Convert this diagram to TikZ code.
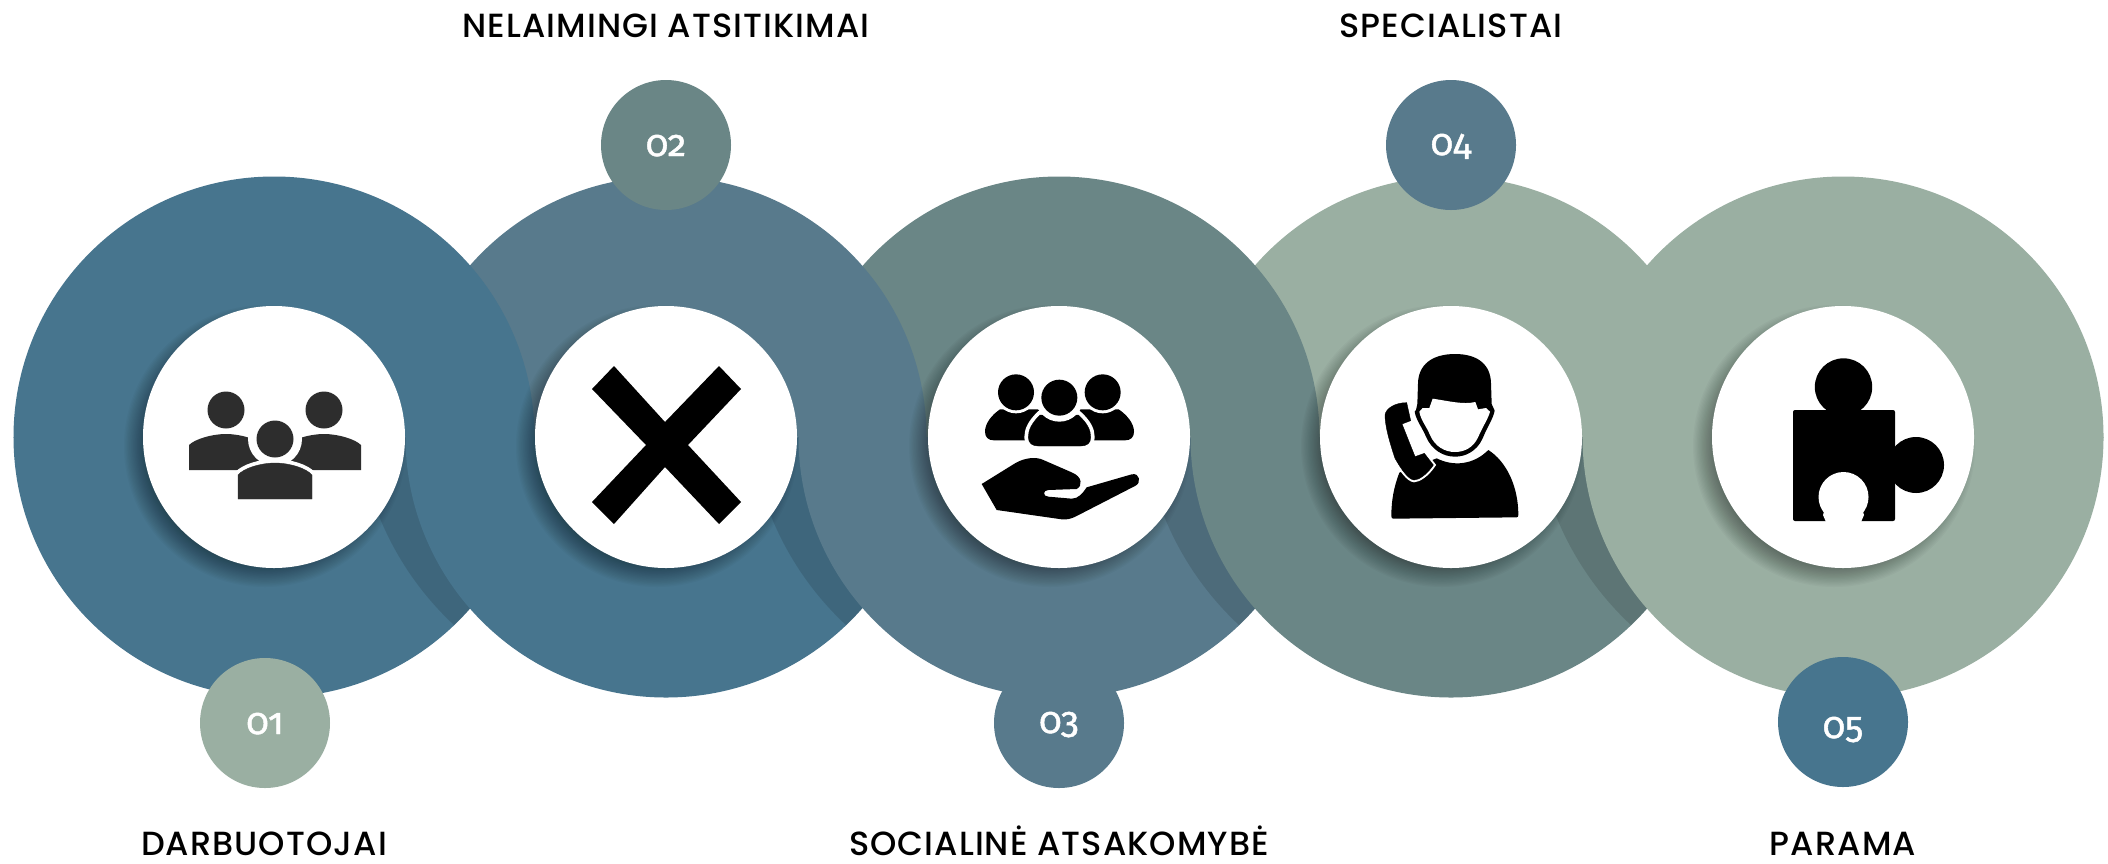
\documentclass[tikz,border=0pt]{standalone}
\usepackage{fontspec}
\setmainfont[LetterSpace=3.2]{Poppins Medium}
\newfontfamily\numf[Numbers=OldStyle,FakeBold=1.2]{Fira Sans}
\definecolor{cA}{HTML}{47758E}
\definecolor{cB}{HTML}{587A8C}
\definecolor{cC}{HTML}{6A8686}
\definecolor{cD}{HTML}{9AAFA2}
\definecolor{iconA}{HTML}{2D2D2D}
\tikzset{
  label text/.style={font=\fontsize{33.5}{33.5}\selectfont, text=black, anchor=base, inner sep=0pt},
  num disc/.style={circle, minimum size=130pt, inner sep=0pt, text=white},
  num text/.style={font=\numf\fontsize{37}{37}\selectfont, text=white, anchor=base, inner sep=0pt},
  hub/.style={circle, fill=white, minimum size=262pt, inner sep=0pt},
}
\begin{document}
\begin{tikzpicture}[x=1pt,y=-1pt]
\useasboundingbox (0,0) rectangle (2108,863);
\fill[white] (0,0) rectangle (2108,863);
% upper halves: each circle lies over the next
\begin{scope}
  \clip (0,0) rectangle (2108,437.5);
  \foreach \cx/\col in {1843/cD,1451/cD,1059/cC,666/cB,274/cA}
    \fill[\col] (\cx,437) circle[radius=260.5pt];
\end{scope}
% lower halves: each circle lies over the previous, with a darker band
\begin{scope}
  \clip (0,437) rectangle (2108,863);
  \foreach \cx/\col/\band in {274/cA/1,666/cA/1,1059/cB/1,1451/cC/1,1843/cD/0}{
    \fill[\col] (\cx,437) circle[radius=260.5pt];
    \ifnum\band=1
    \begin{scope}
      \clip (\cx,437) circle[radius=260.5pt];
      \pgfmathsetmacro{\bx}{\cx+388}
      \fill[black,opacity=.12] (\bx,402) circle[radius=305pt];
    \end{scope}
    \fi
  }
\end{scope}
% soft shadows under the white hubs
\foreach \cx in {274,666,1059,1451,1843}{
  \foreach \k in {0,...,19}{
    \pgfmathsetmacro{\rr}{141-1.3*\k}
    \fill[black,opacity=.022] (\cx-9,446) circle[radius=\rr pt];
  }
}
\node[hub] (hubA) at (274,437) {};
\node[hub] (hubB) at (666,437) {};
\node[hub] (hubC) at (1059,437) {};
\node[hub] (hubD) at (1451,437) {};
\node[hub] (hubE) at (1843,437) {};
% icon 1: group
\begin{scope}
  \fill[iconA] (226,410) circle[radius=18.5pt] (324,410) circle[radius=18.5pt];
  \fill[iconA] (189,470) -- (189,445) .. controls (195,439) and (212,434) .. (226,434) .. controls (240,434) and (257,439) .. (263,445) -- (263,470) -- cycle;
  \fill[iconA] (361,470) -- (361,445) .. controls (355,439) and (338,434) .. (324,434) .. controls (310,434) and (293,439) .. (287,445) -- (287,470) -- cycle;
  \fill[white] (275,439) circle[radius=27pt];
  \filldraw[iconA,preaction={draw=white,line width=8pt}] (238,499) -- (238,475) .. controls (244,468) and (261,463) .. (275,463) .. controls (289,463) and (306,468) .. (312,475) -- (312,499) -- cycle;
  \fill[iconA] (275,439) circle[radius=18.5pt];
\end{scope}
% icon 2: cross
\fill[black] (614,366) -- (665,422) -- (719,366) -- (741,389) -- (688,445) -- (741,502) -- (719,524) -- (665,467) -- (614,524) -- (592,502) -- (646,445) -- (592,389) -- cycle;
% icon 3: people on a hand
\begin{scope}[shift={(900pt,-280pt)},x=.33333pt,y=-.33333pt]
  \fill[black] (300,388) .. controls (275,405) and (255,430) .. (255,455) .. controls (255,472) and (265,481) .. (282,481) -- (440,481) -- (440,388) -- cycle;
  \fill[black] (656,388) .. controls (681,405) and (702,430) .. (702,455) .. controls (702,472) and (692,481) .. (675,481) -- (516,481) -- (516,388) -- cycle;
  \fill[white] (348,337) circle[radius=21pt] (608,337) circle[radius=21pt];
  \fill[black] (348,337) circle[radius=18pt] (608,337) circle[radius=18pt];
  \fill[white] (478,353) circle[radius=24pt];
  \filldraw[black,preaction={draw=white,line width=8pt}] (420,405) .. controls (395,430) and (385,450) .. (385,472) .. controls (385,490) and (398,498) .. (415,498) -- (542,498) .. controls (560,498) and (572,490) .. (572,472) .. controls (572,450) and (562,430) .. (535,405) -- cycle;
  \fill[white] (478,353) circle[radius=24pt];
  \fill[black] (478,353) circle[radius=18pt];
  \fill[black] (245,612) -- (345,550) .. controls (375,532) and (410,530) .. (430,540) -- (515,577) .. controls (548,590) and (548,618) .. (530,627) -- (445,630) .. controls (428,630) and (428,650) .. (445,650) -- (515,656) .. controls (535,656) and (548,640) .. (560,622) -- (695,583) .. controls (720,577) and (725,610) .. (705,618) -- (530,708) .. controls (515,716) and (500,720) .. (485,718) -- (290,690) -- cycle;
\end{scope}
% icon 4: person on the phone
\begin{scope}[shift={(1290pt,-280pt)},x=.33333pt,y=-.33333pt]
  \fill[black] (595,510) .. controls (650,545) and (685,620) .. (685,705) .. controls (685,710) and (683,712) .. (680,712) -- (310,716) .. controls (306,716) and (304,714) .. (304,708) .. controls (304,660) and (312,620) .. (328,578) -- (440,535) .. controls (490,560) and (550,555) .. (595,510) -- cycle;
  \fill[black] (378,390) -- (382,372) -- (384,310) .. controls (385,255) and (425,222) .. (495,222) .. controls (565,222) and (602,255) .. (603,310) -- (605,372) -- (614,392) .. controls (610,415) and (592,440) .. (578,475) .. controls (560,515) and (525,530) .. (495,530) .. controls (460,530) and (425,510) .. (408,470) .. controls (395,440) and (378,420) .. (374,395) -- cycle;
  \fill[white] (388,395) -- (398,384) -- (418,384) -- (428,356) .. controls (470,362) and (520,375) .. (556,366) -- (564,388) -- (588,384) -- (600,395) .. controls (595,415) and (578,440) .. (565,470) .. controls (550,505) and (520,516) .. (495,516) .. controls (465,516) and (435,500) .. (420,465) .. controls (410,440) and (392,420) .. (388,395) -- cycle;
  \filldraw[black,preaction={draw=white,line width=4.5pt}] (350,368) -- (362,422) -- (336,432) -- (375,530) -- (403,520) -- (430,555) .. controls (410,585) and (385,600) .. (372,600) .. controls (355,598) and (335,570) .. (315,535) .. controls (300,490) and (285,440) .. (285,405) .. controls (288,385) and (315,368) .. (350,368) -- cycle;
\end{scope}
% icon 5: puzzle piece
\begin{scope}
  \fill[black,rounded corners=2pt] (1793,410) rectangle (1895,521);
  \fill[black] (1843.5,387) circle[radius=28.7pt] (1916,465) circle[radius=28pt];
  \fill[white] (1843.5,497) circle[radius=25pt];
  \fill[white] (1826,505) -- (1861,505) -- (1864,515) -- (1861,522) -- (1826,522) -- (1823,515) -- cycle;
\end{scope}
% numbered discs
\node[num disc,fill=cD] (discA) at (265,723) {};
\node[num disc,fill=cC] (discB) at (666,145) {};
\node[num disc,fill=cB] (discC) at (1059,723) {};
\node[num disc,fill=cB] (discD) at (1451,145) {};
\node[num disc,fill=cA] (discE) at (1843,722) {};
\node[num text] (numA) at (265,734) {01};
\node[num text] (numB) at (666,156) {02};
\node[num text] (numC) at (1059,733) {03};
\node[num text] (numD) at (1451,155) {04};
\node[num text] (numE) at (1843,738) {05};
% labels
\node[label text] (labB) at (666,37) {NELAIMINGI ATSITIKIMAI};
\node[label text] (labD) at (1451,37) {SPECIALISTAI};
\node[label text] (labA) at (264,855) {DARBUOTOJAI};
\node[label text] (labC) at (1059,855) {SOCIALINĖ ATSAKOMYBĖ};
\node[label text] (labE) at (1843,855) {PARAMA};
\end{tikzpicture}
\end{document}
